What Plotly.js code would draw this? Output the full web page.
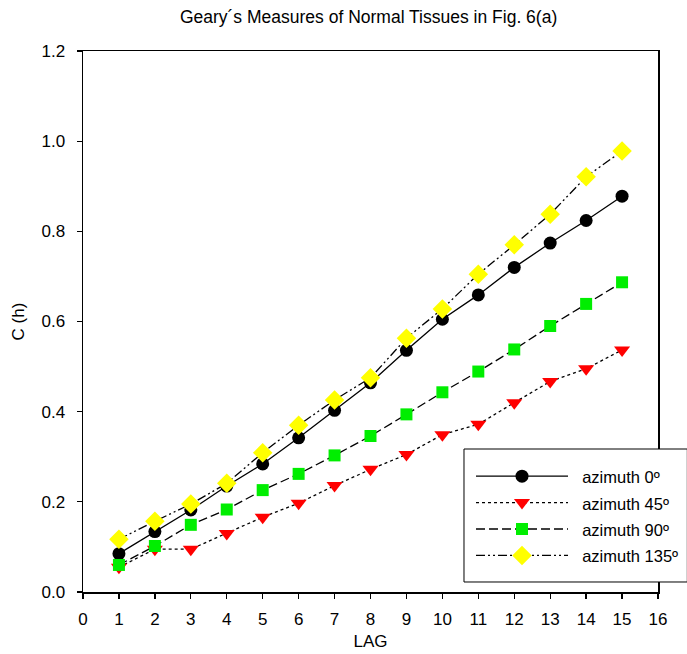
<!DOCTYPE html>
<html>
<head>
<meta charset="utf-8">
<script src="https://cdn.plot.ly/plotly-3.0.1.min.js"></script>
<style>
  html, body { margin: 0; padding: 0; background: #fff; }
  #chart { width: 687px; height: 654px; }
</style>
</head>
<body>
<div id="chart"></div>
<script>
// Geary's C(h) by lag for four azimuth directions
const lags = [1, 2, 3, 4, 5, 6, 7, 8, 9, 10, 11, 12, 13, 14, 15];
const az0   = [0.085, 0.134, 0.182, 0.235, 0.284, 0.342, 0.403, 0.464, 0.536, 0.605, 0.659, 0.720, 0.774, 0.824, 0.878];
const az45  = [0.055, 0.095, 0.095, 0.130, 0.166, 0.197, 0.236, 0.272, 0.305, 0.349, 0.372, 0.420, 0.467, 0.495, 0.537];
const az90  = [0.060, 0.102, 0.149, 0.183, 0.226, 0.262, 0.303, 0.346, 0.394, 0.443, 0.489, 0.538, 0.590, 0.639, 0.687];
const az135 = [0.117, 0.157, 0.195, 0.241, 0.309, 0.370, 0.426, 0.475, 0.563, 0.628, 0.705, 0.770, 0.838, 0.921, 0.978];
const names = ['azimuth 0º', 'azimuth 45º', 'azimuth 90º', 'azimuth 135º'];
const xTicks = [0, 1, 2, 3, 4, 5, 6, 7, 8, 9, 10, 11, 12, 13, 14, 15, 16];
const yTicks = [0.0, 0.2, 0.4, 0.6, 0.8, 1.0, 1.2];

const FONT = 'Liberation Sans, Arial, sans-serif';

function series(y, name, symbol, color, size, dash) {
  return {
    x: lags, y: y, type: 'scatter', mode: 'lines+markers',
    // extra gap between the legend sample and its label
    name: '<span style="font-size:16.5px">\u00a0\u00a0' + name + '</span>',
    line: { color: '#000', width: 1.3, dash: dash },
    marker: { symbol: symbol, color: color, size: size, line: { width: 0 } }
  };
}

const traces = [
  series(az0,   names[0], 'circle',        '#000000', 13, 'solid'),
  series(az45,  names[1], 'triangle-down', '#ff0000', 14, 'dot'),
  series(az90,  names[2], 'square',        '#00ee00', 12, '9px,4px'),
  series(az135, names[3], 'diamond',       '#ffff00', 15, '9px,3px,2px,3px,2px,3px')
];

const layout = {
  width: 687, height: 654,
  // fixed plot area; the legend may not push the margins
  margin: { l: 83, r: 29, t: 51, b: 62, autoexpand: false },
  paper_bgcolor: '#fff', plot_bgcolor: '#fff',
  font: { family: FONT, size: 17, color: '#000' },
  title: {
    text: 'Geary´s Measures of Normal Tissues in Fig. 6(a)',
    font: { family: FONT, size: 17.5, color: '#000' },
    x: 0.5365, xanchor: 'center', y: 0.974, yanchor: 'middle'
  },
  xaxis: {
    range: [0, 16], tickvals: xTicks, ticktext: xTicks.map(String),
    ticks: 'outside', ticklen: 5, tickwidth: 1.3, tickcolor: '#000',
    ticklabelstandoff: 6,
    showline: true, linecolor: '#000', linewidth: 1.5, mirror: true,
    showgrid: false, zeroline: false,
    tickfont: { family: FONT, size: 17 },
    title: { text: 'LAG', font: { family: FONT, size: 17 }, standoff: 7 }
  },
  yaxis: {
    range: [0, 1.2], tickvals: yTicks, ticktext: yTicks.map(v => v.toFixed(1)),
    ticks: 'outside', ticklen: 5, tickwidth: 1.3, tickcolor: '#000',
    ticklabelstandoff: 8,
    showline: true, linecolor: '#000', linewidth: 1.5, mirror: true,
    showgrid: false, zeroline: false,
    tickfont: { family: FONT, size: 17 },
    title: { text: 'C (h)', font: { family: FONT, size: 17 }, standoff: 12 }
  },
  // legend frame
  shapes: [{
    type: 'rect', xref: 'paper', yref: 'paper', layer: 'above',
    x0: 0.6626, x1: 1.051, y0: 0.0185, y1: 0.2643,
    line: { color: '#000', width: 1 }, fillcolor: '#fff'
  }],
  showlegend: true,
  legend: {
    x: 0.6748, xanchor: 'left', y: 0.1405, yanchor: 'middle',
    bgcolor: 'rgba(0,0,0,0)', borderwidth: 0,
    font: { family: FONT, size: 18, color: '#000' },
    itemwidth: 92, tracegroupgap: 0,
    traceorder: 'normal'
  }
};

Plotly.newPlot('chart', traces, layout, { displayModeBar: false, staticPlot: true });
</script>
</body>
</html>
